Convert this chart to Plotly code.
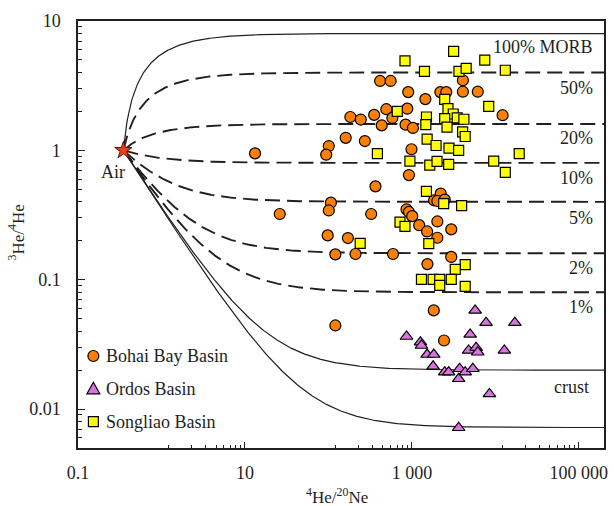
import numpy as np
import plotly.graph_objects as go

# ---------------- data ----------------
# Bohai Bay Basin (4He/20Ne, 3He/4He R/Ra)
bohai_he_ne = [416, 556, 494, 183, 244, 353, 435, 583, 161, 273, 101, 94, 13.2, 4080, 903,
               2190, 2580, 4080, 6150, 1450, 879, 12200, 839, 1028, 989, 366, 107, 101, 26.1,
               325, 98, 171, 121, 211, 594, 121, 1828, 2425, 921, 2215, 1842, 2017, 2472, 862,
               921, 1008, 1222, 2017, 1521, 2960, 2017, 2960, 1535]
bohai_r = [3.44, 3.44, 2.08, 1.81, 1.73, 1.88, 1.56, 1.78, 1.25, 1.18, 1.08, 0.926, 0.948, 3.48,
           2.82, 2.82, 2.82, 2.84, 2.84, 2.49, 2.10, 1.87, 1.58, 1.49, 1.02, 0.527, 0.394, 0.343,
           0.322, 0.322, 0.220, 0.210, 0.157, 0.158, 0.158, 0.0443, 0.0579, 0.0339, 0.644, 0.463,
           0.411, 0.406, 0.416, 0.350, 0.334, 0.310, 0.264, 0.282, 0.236, 0.245, 0.211, 0.150, 0.132]

# Ordos Basin
ordos_he_ne = [5720, 7730, 17100, 862, 4986, 1266, 1301, 1521, 1828, 4773, 5875, 6150, 12800,
               1794, 2470, 2756, 3727, 4348, 5370, 3630, 8490, 3630]
ordos_r = [0.0579, 0.0465, 0.0465, 0.0364, 0.0378, 0.0329, 0.0310, 0.0264, 0.0264, 0.0284, 0.0298,
           0.0275, 0.0284, 0.0214, 0.0193, 0.0193, 0.0205, 0.0193, 0.0205, 0.01715, 0.0131, 0.00717]

# Songliao Basin
songliao_he_ne = [668, 386, 3160, 826, 7460, 1413, 3660, 4467, 13150, 8320, 2470, 2705, 3130, 3490,
                  4195, 1493, 2470, 1468, 2633, 4047, 4348, 1521, 1946, 2780, 3630, 19300, 946, 1637,
                  2000, 2756, 9550, 13150, 1493, 2404, 3940, 720, 826, 1593, 4348, 3305, 1301, 1794,
                  2154, 2960, 2154, 4348, 240]
songliao_r = [2.00, 0.943, 5.83, 4.91, 4.99, 4.08, 4.08, 4.31, 4.16, 2.19, 2.48, 2.10, 1.91, 1.78,
              1.74, 1.81, 1.76, 1.58, 1.51, 1.39, 1.28, 1.22, 1.09, 1.04, 1.00, 0.943, 0.826, 0.769,
              0.822, 0.780, 0.826, 0.676, 0.482, 0.387, 0.374, 0.279, 0.258, 0.190, 0.131, 0.120,
              0.1005, 0.1005, 0.1005, 0.1005, 0.0904, 0.0887, 0.191]

# Air end-member and mixing end-members (R/Ra of the non-atmospheric component)
air_he_ne = 0.35
air_r = 1.0
end_r = [8.0, 4.0, 1.6, 0.8, 0.4, 0.16, 0.08, 0.02, 0.0072]
end_dashed = [False, True, True, True, True, True, True, False, False]
curve_labels = ["100% MORB", "50%", "20%", "10%", "5%", "2%", "1%", "crust"]

x_ticks = [0.1, 10, 1000, 100000]
x_ticktext = ["0.1", "10", "1 000", "100 000"]
y_ticks = [0.01, 0.1, 1, 10]
y_ticktext = ["0.01", "0.1", "1", "10"]
x_max = 2e5
y_min = 0.005

# ---------------- style ----------------
FONT = "Liberation Serif"
INK = "#231f20"
ORANGE = "#ff8000"
PURPLE = "#d873e0"
YELLOW = "#ffff00"
STAR = "#e8401c"

W, H = 614, 506
PL, PR, PT, PB = 78, 608, 21, 448


def px(xp):
    return (xp - PL) / (PR - PL)


def py(yp):
    return (PB - yp) / (PB - PT)


fig = go.Figure()

# mixing curves
xg = np.logspace(np.log10(air_he_ne), np.log10(x_max), 600)
for r_end, dashed in zip(end_r, end_dashed):
    yc = r_end + (air_r - r_end) * air_he_ne / xg
    fig.add_trace(go.Scatter(
        x=xg, y=yc, mode="lines", hoverinfo="skip", showlegend=False,
        line=dict(color=INK, width=1.9 if dashed else 1.2,
                  dash="15px,7px" if dashed else "solid")))

fig.add_trace(go.Scatter(
    x=bohai_he_ne, y=bohai_r, mode="markers", name="Bohai Bay Basin", showlegend=False,
    marker=dict(symbol="circle", size=11, color=ORANGE, line=dict(color="#000000", width=1.2))))
fig.add_trace(go.Scatter(
    x=ordos_he_ne, y=ordos_r, mode="markers", name="Ordos Basin", showlegend=False,
    marker=dict(symbol="triangle-up", size=11, color=PURPLE, line=dict(color="#000000", width=1.2))))
fig.add_trace(go.Scatter(
    x=songliao_he_ne, y=songliao_r, mode="markers", name="Songliao Basin", showlegend=False,
    marker=dict(symbol="square", size=10, color=YELLOW, line=dict(color="#000000", width=1.2))))

fig.add_trace(go.Scatter(
    x=[air_he_ne], y=[air_r], mode="markers", name="Air", showlegend=False,
    marker=dict(symbol="star", size=13, color=STAR, line=dict(color="#5a1608", width=1))))


# minor ticks: the original axis subdivides each labelled interval linearly in 9 parts
def linear_minor(majors):
    out = []
    for a, b in zip(majors[:-1], majors[1:]):
        out += [a + k * (b - a) / 9 for k in range(1, 9)]
    return out


x_minor = linear_minor(x_ticks)
y_minor = [m * 10.0 ** e for e in range(-3, 1) for m in range(2, 10)]
y_minor = [v for v in y_minor if y_min <= v <= 10]

axis_common = dict(
    type="log", showgrid=False, zeroline=False, showline=True, linecolor=INK, linewidth=1.5,
    mirror=True, ticks="inside", tickcolor=INK, tickwidth=1.2,
    tickfont=dict(family=FONT, size=18, color=INK), tickmode="array")

fig.update_xaxes(**axis_common, range=[-1, np.log10(x_max)], tickvals=x_ticks, ticktext=x_ticktext,
                 ticklen=6, ticklabelstandoff=8,
                 minor=dict(tickvals=x_minor, ticks="inside", ticklen=3, tickcolor=INK, tickwidth=1,
                            showgrid=False))
fig.update_yaxes(**axis_common, range=[np.log10(y_min), 1], tickvals=y_ticks, ticktext=y_ticktext,
                 ticklen=7, ticklabelstandoff=12,
                 minor=dict(tickvals=y_minor, ticks="inside", ticklen=4, tickcolor=INK, tickwidth=1,
                            showgrid=False))

annotations = []
label_pos = [(599, 46.7), (599, 88.3), (599, 138.3), (599, 178.3), (599, 218.3), (599, 268.3),
             (599, 307.3), (595, 386.7)]
for txt, (lx, ly) in zip(curve_labels, label_pos):
    annotations.append(dict(text=txt, x=px(lx), y=py(ly), xref="paper", yref="paper",
                            xanchor="right", yanchor="middle", showarrow=False,
                            font=dict(family=FONT, size=18, color=INK)))
annotations.append(dict(text="Air", x=px(113.3), y=py(171.7), xref="paper", yref="paper",
                        xanchor="center", yanchor="middle", showarrow=False,
                        font=dict(family=FONT, size=18, color=INK)))
annotations.append(dict(text="<sup>4</sup>He/<sup>20</sup>Ne", x=px(338.5), y=py(496), xref="paper",
                        yref="paper", xanchor="center", yanchor="middle", showarrow=False,
                        font=dict(family=FONT, size=17, color=INK)))
annotations.append(dict(text="<sup>3</sup>He/<sup>4</sup>He", x=px(16), y=py(232), xref="paper",
                        yref="paper", xanchor="center", yanchor="middle", showarrow=False,
                        textangle=-90, font=dict(family=FONT, size=17, color=INK)))

# manual legend
legend_items = ["Bohai Bay Basin", "Ordos Basin", "Songliao Basin"]
leg_y = [356, 389.3, 421.7]
mx = 93.5
shapes = []
shapes.append(dict(type="circle", xref="paper", yref="paper",
                   x0=px(mx - 5.5), x1=px(mx + 5.5), y0=py(leg_y[0] + 5.5), y1=py(leg_y[0] - 5.5),
                   fillcolor=ORANGE, line=dict(color="#000000", width=1.2)))
ty = leg_y[1]
shapes.append(dict(type="path", xref="paper", yref="paper",
                   path=f"M {px(mx)},{py(ty - 7)} L {px(mx + 6.5)},{py(ty + 4.5)} L {px(mx - 6.5)},{py(ty + 4.5)} Z",
                   fillcolor=PURPLE, line=dict(color="#000000", width=1.2)))
shapes.append(dict(type="rect", xref="paper", yref="paper",
                   x0=px(mx - 5), x1=px(mx + 5), y0=py(leg_y[2] + 5), y1=py(leg_y[2] - 5),
                   fillcolor=YELLOW, line=dict(color="#000000", width=1.2)))
for txt, ly in zip(legend_items, leg_y):
    annotations.append(dict(text=txt, x=px(104), y=py(ly), xref="paper", yref="paper",
                            xanchor="left", yanchor="middle", showarrow=False,
                            font=dict(family=FONT, size=18, color=INK)))

fig.update_layout(
    width=W, height=H, margin=dict(l=PL, r=W - PR, t=PT, b=H - PB),
    paper_bgcolor="white", plot_bgcolor="white",
    annotations=annotations, shapes=shapes, showlegend=False,
    font=dict(family=FONT, color=INK))

fig.write_html("out.html")
